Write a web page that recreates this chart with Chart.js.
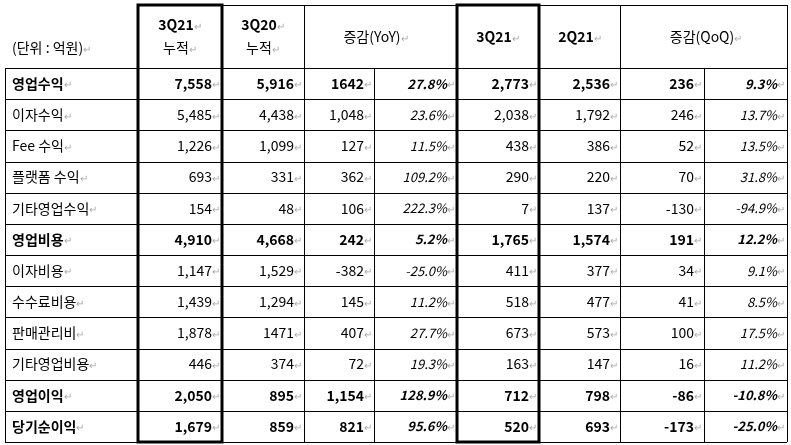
<!DOCTYPE html>
<html><head><meta charset="utf-8">
<script src="https://cdn.jsdelivr.net/npm/chart.js@4"></script>
<style>html,body{margin:0;background:#fff}#w{width:791px;height:445px}</style>
</head><body><div id="w"><canvas id="c"></canvas></div>
<script>
const rowLabels=["영업수익","이자수익","Fee 수익","플랫폼 수익","기타영업수익","영업비용","이자비용","수수료비용","판매관리비","기타영업비용","영업이익","당기순이익"];
const boldRows=[0,5,10,11];
const cum3Q21=["7,558","5,485","1,226","693","154","4,910","1,147","1,439","1,878","446","2,050","1,679"];
const cum3Q20=["5,916","4,438","1,099","331","48","4,668","1,529","1,294","1471","374","895","859"];
const yoyAmt=["1642","1,048","127","362","106","242","-382","145","407","72","1,154","821"];
const yoyPct=["27.8%","23.6%","11.5%","109.2%","222.3%","5.2%","-25.0%","11.2%","27.7%","19.3%","128.9%","95.6%"];
const q3Q21=["2,773","2,038","438","290","7","1,765","411","518","673","163","712","520"];
const q2Q21=["2,536","1,792","386","220","137","1,574","377","477","573","147","798","693"];
const qoqAmt=["236","246","52","70","-130","191","34","41","100","16","-86","-173"];
const qoqPct=["9.3%","13.7%","13.5%","31.8%","-94.9%","12.2%","9.1%","8.5%","17.5%","11.2%","-10.8%","-25.0%"];
const colX=[5,138,222,304,374,457,539,620,704,787];
const topY=5,headY=68,botY=442;
const F='"Noto Sans CJK KR","Noto Sans",sans-serif';
const tablePlugin={id:'table',afterDraw(ch){
 const c=ch.ctx;c.save();
 const rh=(botY-headY)/rowLabels.length;
 const ry=i=>headY+i*rh;
 c.fillStyle='#fff';c.fillRect(0,0,791,445);
 c.strokeStyle='#000';c.lineWidth=1;
 const L=(x1,y1,x2,y2)=>{c.beginPath();c.moveTo(x1,y1);c.lineTo(x2,y2);c.stroke();};
 for(let i=0;i<=rowLabels.length;i++)L(colX[0],Math.round(ry(i))+.5,colX[9],Math.round(ry(i))+.5);
 L(colX[1],topY+.5,colX[9],topY+.5);
 L(colX[0]+.5,headY,colX[0]+.5,botY);
 [1,2,3,5,6,7,9].forEach(k=>L(colX[k]+.5,topY,colX[k]+.5,botY));
 [4,8].forEach(k=>L(colX[k]+.5,headY,colX[k]+.5,botY));
 c.lineWidth=3;
 c.strokeRect(colX[1],topY,colX[2]-colX[1],botY-topY);
 c.strokeRect(colX[5],topY,colX[6]-colX[5],botY-topY);
 const T=(s,x,y,al,bold,it,col)=>{c.font=(it?'italic ':'')+(bold?'bold ':'')+(it?'13px ':'14px ')+F;c.fillStyle=col||'#000';c.textAlign=al;c.textBaseline='middle';c.fillText(s,x,y);
  const w=c.measureText(s).width;c.font='10px '+F;c.fillStyle='#aaa';c.textAlign='left';
  const ax=al==='right'?x:(al==='center'?x+w/2:x+w);c.fillText('↵',ax,y+1);};
 T('(단위 : 억원)',12,48,'left',false,false);
 T('3Q21',176,25,'center',true);T('누적',176,48,'center',false);
 T('3Q20',259,25,'center',true);T('누적',259,48,'center',false);
 T('증감(YoY)',372,37,'center',false);
 T('3Q21',494,37,'center',true);T('2Q21',576,37,'center',true);
 T('증감(QoQ)',702,37,'center',false);
 const cols=[cum3Q21,cum3Q20,yoyAmt,yoyPct,q3Q21,q2Q21,qoqAmt,qoqPct];
 rowLabels.forEach((lab,i)=>{
  const y=ry(i)+rh/2,b=boldRows.includes(i);
  T(lab,12,y,'left',b,false);
  cols.forEach((arr,k)=>{const it=(k===3||k===7);T(arr[i],colX[k+2]-10,y,'right',b,it);});
 });
 c.restore();}};
new Chart(document.getElementById('c'),{type:'bar',data:{labels:rowLabels,datasets:[{data:[]}]},
 options:{responsive:true,maintainAspectRatio:false,animation:false,plugins:{legend:{display:false},tooltip:{enabled:false}},
 scales:{x:{display:false},y:{display:false}}},plugins:[tablePlugin]});
</script></body></html>
